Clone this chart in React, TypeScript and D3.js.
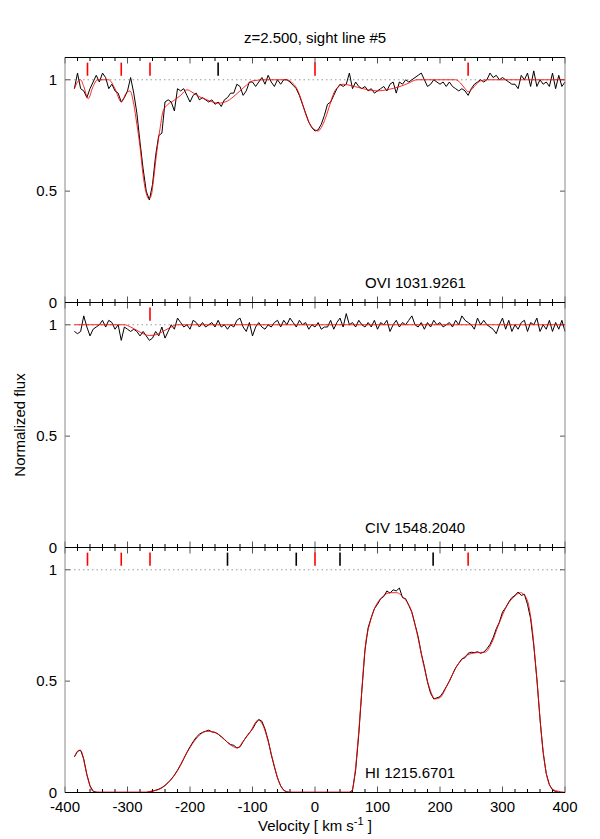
import React from "react";
import * as d3 from "d3";

// velocity grid (km/s) for the observed spectra, 5 km/s steps
const velStart = -385;
const velStep = 5;

const oviFlux = [
  0.96, 1.03, 0.96, 0.95, 0.92, 0.96, 0.99, 1.02, 0.99, 1.03, 1.01, 0.96, 0.98, 0.95, 0.94, 0.9,
  0.92, 0.95, 1.01, 0.94, 0.85, 0.72, 0.6, 0.5, 0.46, 0.53, 0.66, 0.75, 0.76, 0.9, 0.91, 0.9,
  0.86, 0.96, 0.95, 0.96, 0.93, 0.9, 0.93, 0.94, 0.91, 0.92, 0.91, 0.9, 0.91, 0.89, 0.9, 0.88,
  0.91, 0.92, 0.94, 0.94, 0.98, 0.97, 0.93, 0.95, 0.99, 0.99, 0.97, 0.99, 1.01, 0.98, 1.02, 0.99,
  0.97, 1.0, 0.98, 1.0, 1.0, 0.99, 0.975, 0.96, 0.93, 0.89, 0.85, 0.81, 0.785, 0.77, 0.775, 0.8,
  0.84, 0.89, 0.9, 0.93, 0.96, 0.98, 0.97, 0.98, 1.03, 0.96, 0.99, 0.97, 0.96, 0.97, 0.95, 0.96,
  0.94, 0.95, 0.96, 0.97, 0.95, 0.98, 0.99, 0.94, 0.99, 0.98, 1.0, 0.99, 1.0, 1.01, 1.02, 1.03,
  1.0, 0.97, 0.98, 1.0, 0.99, 0.98, 0.99, 0.97, 0.99, 0.97, 0.96, 0.95, 0.96, 0.95, 0.93, 0.96,
  0.98, 0.99, 1.0, 0.99, 1.0, 1.03, 1.01, 1.02, 1.0, 1.01, 1.0, 0.99, 0.98, 0.98, 0.96, 1.02,
  1.0, 1.03, 0.97, 1.04, 0.97, 1.0, 0.98, 0.99, 0.97, 1.03, 0.96, 1.02, 0.97, 0.99,
];

const civFlux = [
  0.97, 0.96, 0.97, 1.04, 0.99, 0.95, 0.98, 0.99, 1.0, 1.02, 0.99, 1.02, 1.01, 0.98, 1.0, 0.93,
  0.99, 0.98, 0.97, 0.98, 0.97, 0.95, 0.97, 0.95, 0.93, 0.94, 0.97, 0.95, 0.99, 0.94, 0.97, 1.0,
  0.98, 1.03, 1.01, 0.99, 1.0, 0.98, 1.02, 1.01, 0.99, 1.01, 0.99, 1.0, 1.01, 0.99, 1.02, 0.99,
  1.0, 0.98, 1.0, 0.99, 1.02, 1.03, 0.99, 0.97, 1.01, 0.95, 0.99, 1.01, 0.99, 0.98, 1.0, 0.99,
  1.01, 1.02, 0.99, 1.02, 1.0, 1.03, 1.01, 0.99, 1.02, 1.0, 1.01, 0.98, 1.0, 0.99, 1.01, 0.98,
  0.99, 0.99, 1.02, 0.98, 1.01, 1.03, 0.99, 1.05, 1.0, 1.01, 0.99, 1.02, 1.0, 0.99, 1.01, 0.99,
  1.02, 0.98, 1.01, 1.0, 1.02, 0.97, 1.0, 1.02, 0.99, 1.01, 1.0, 1.02, 1.04, 1.0, 0.99, 1.01,
  0.98, 1.01, 0.99, 1.02, 1.0, 1.01, 0.99, 1.0, 1.01, 0.99, 1.02, 1.0, 1.04, 1.02, 1.01, 1.0,
  0.98, 1.03, 1.0, 1.02, 1.0, 0.99, 0.98, 0.96, 1.0, 1.03, 0.98, 1.02, 0.97, 1.0, 0.98, 1.01,
  1.02, 0.97, 1.01, 1.0, 1.03, 0.97, 1.0, 0.98, 1.02, 0.97, 1.01, 0.98, 1.02, 0.97,
];

const hiFlux = [
  0.16, 0.185, 0.19, 0.15, 0.08, 0.03, 0.006, 0.001, 0, 0, 0, 0, 0, 0, 0, 0,
  0, 0, 0, 0, 0, 0, 0, 0, 0.003, 0.006, 0.01, 0.015, 0.022, 0.032, 0.045, 0.06,
  0.078, 0.1, 0.125, 0.152, 0.18, 0.205, 0.228, 0.248, 0.262, 0.27, 0.275, 0.28, 0.272, 0.27, 0.262, 0.25,
  0.238, 0.225, 0.215, 0.212, 0.2, 0.205, 0.228, 0.25, 0.268, 0.285, 0.31, 0.328, 0.32, 0.285, 0.235, 0.17,
  0.115, 0.065, 0.03, 0.01, 0.003, 0, 0, 0, 0, 0, 0, 0, 0, 0, 0, 0,
  0, 0, 0, 0, 0, 0, 0, 0, 0, 0.01, 0.1, 0.26, 0.46, 0.64, 0.74, 0.785,
  0.825, 0.845, 0.87, 0.88, 0.905, 0.895, 0.91, 0.905, 0.918, 0.875, 0.87, 0.84, 0.81, 0.755, 0.7, 0.625,
  0.565, 0.495, 0.445, 0.42, 0.425, 0.43, 0.45, 0.475, 0.5, 0.53, 0.56, 0.58, 0.6, 0.605, 0.625, 0.63,
  0.628, 0.632, 0.625, 0.63, 0.645, 0.665, 0.695, 0.735, 0.765, 0.81, 0.83, 0.855, 0.875, 0.885, 0.9, 0.885,
  0.89, 0.845, 0.78, 0.66, 0.51, 0.33, 0.18, 0.085, 0.035, 0.012, 0.004, 0.001, 0, 0,
];

// fitted models: [velocity, flux]
const oviModel: [number, number][] = [
  [-385, 0.96], [-380, 0.99], [-375, 1.0], [-370, 0.97], [-363, 0.915], [-355, 0.97], [-348, 1.0],
  [-330, 1.0], [-320, 0.96], [-310, 0.9], [-302, 0.94], [-296, 0.95], [-290, 0.89], [-285, 0.8],
  [-280, 0.7], [-275, 0.57], [-270, 0.49], [-266, 0.465], [-262, 0.48], [-258, 0.56], [-253, 0.68],
  [-248, 0.78], [-243, 0.86], [-235, 0.89], [-227, 0.905], [-215, 0.93], [-205, 0.955], [-197, 0.945],
  [-189, 0.93], [-173, 0.91], [-155, 0.895], [-140, 0.905], [-128, 0.93], [-120, 0.95], [-110, 0.975],
  [-100, 0.995], [-80, 1.0], [-45, 1.0], [-38, 0.99], [-29, 0.96], [-22, 0.91], [-16, 0.855], [-8, 0.8],
  [0, 0.775], [5, 0.77], [10, 0.785], [17, 0.83], [24, 0.89], [30, 0.94], [38, 0.97], [45, 0.98],
  [56, 0.975], [70, 0.965], [85, 0.955], [100, 0.95], [115, 0.955], [136, 0.97], [150, 0.985], [163, 1.0],
  [225, 1.0], [233, 0.985], [240, 0.96], [245, 0.946], [252, 0.96], [258, 0.98], [265, 0.995], [275, 1.0],
  [400, 1.0],
];

const civModel: [number, number][] = [
  [-385, 1.0], [-305, 1.0], [-295, 0.99], [-285, 0.975], [-275, 0.96], [-265, 0.952], [-258, 0.953],
  [-250, 0.96], [-240, 0.975], [-230, 0.99], [-220, 1.0], [400, 1.0],
];

const hiModel: [number, number][] = [
  [-385, 0.16], [-377, 0.19], [-373, 0.18], [-368, 0.118], [-363, 0.058], [-357, 0.01], [-352, 0.002],
  [-270, 0.002], [-264, 0.005], [-248, 0.016], [-235, 0.043], [-219, 0.103], [-205, 0.178], [-189, 0.245],
  [-173, 0.275], [-163, 0.272], [-149, 0.25], [-136, 0.215], [-124, 0.2], [-115, 0.23], [-104, 0.27],
  [-91, 0.325], [-83, 0.3], [-75, 0.23], [-67, 0.14], [-59, 0.058], [-51, 0.013], [-43, 0.002], [56, 0.002],
  [59, 0.006], [64, 0.088], [69, 0.238], [75, 0.463], [80, 0.643], [88, 0.763], [96, 0.831], [107, 0.876],
  [120, 0.897], [131, 0.897], [141, 0.876], [152, 0.831], [163, 0.718], [173, 0.583], [184, 0.463],
  [192, 0.42], [200, 0.426], [211, 0.478], [227, 0.568], [243, 0.616], [259, 0.628], [272, 0.63],
  [283, 0.673], [293, 0.748], [307, 0.838], [320, 0.883], [329, 0.897], [339, 0.868], [347, 0.748],
  [355, 0.508], [363, 0.238], [371, 0.073], [381, 0.013], [397, 0.002], [400, 0.001],
];

const redMarkers = [-364, -310, -264, 0, 245];
const panelLabels = ["OVI 1031.9261", "CIV 1548.2040", "HI 1215.6701"];
const panelRed = [redMarkers, [-264], redMarkers];
const panelBlack = [[-155], [], [-140, -30, 40, 189]];

const W = 600;
const H = 839;
const left = 65;
const right = 565;
const panelTop = [57.5, 302.5, 547.5];
const panelH = 245;
const font = "'Liberation Sans', Arial, Helvetica, sans-serif";

const x = d3.scaleLinear().domain([-400, 400]).range([left, right]);
const xTicks = d3.range(-400, 401, 20);

const toPoints = (arr: number[]): [number, number][] =>
  arr.map((f, i) => [velStart + i * velStep, f]);

const spectra = [
  { data: toPoints(oviFlux), model: oviModel },
  { data: toPoints(civFlux), model: civModel },
  { data: toPoints(hiFlux), model: hiModel },
];

function Panel({ idx }: { idx: number }) {
  const top = panelTop[idx];
  const bottom = top + panelH;
  const y = d3.scaleLinear().domain([0, 1.1]).range([bottom, top]);
  const line = d3
    .line<[number, number]>()
    .x((d) => x(d[0]))
    .y((d) => y(d[1]));
  const modelLine = d3
    .line<[number, number]>()
    .x((d) => x(d[0]))
    .y((d) => y(d[1]))
    .curve(d3.curveMonotoneX);
  const { data, model } = spectra[idx];
  const yTicks = [0, 0.5, 1];
  return (
    <g>
      {/* dotted continuum */}
      <line x1={left} x2={right} y1={y(1)} y2={y(1)} stroke="#999" strokeDasharray="1.5,3" />
      {/* x ticks top and bottom */}
      {xTicks.map((t) => {
        const major = t % 100 === 0;
        const len = major ? 6 : 3.5;
        return (
          <g key={t} stroke={major ? "#555" : "#000"}>
            <line x1={x(t)} x2={x(t)} y1={bottom} y2={bottom - len} />
            <line x1={x(t)} x2={x(t)} y1={top} y2={top + len} />
          </g>
        );
      })}
      {/* y ticks */}
      {yTicks.map((t) => (
        <g key={t}>
          <line x1={left} x2={left + 5} y1={y(t)} y2={y(t)} stroke="#555" />
          <line x1={right} x2={right - 5} y1={y(t)} y2={y(t)} stroke="#555" />
          <text
            x={left - 8}
            y={y(t)}
            dy="0.35em"
            textAnchor="end"
            fontSize={15}
            fontFamily={font}
          >
            {t}
          </text>
        </g>
      ))}
      {/* line markers */}
      {panelRed[idx].map((v) => (
        <line key={"r" + v} x1={x(v)} x2={x(v)} y1={y(1.077)} y2={y(1.018)} stroke="#f00" strokeWidth={1.6} />
      ))}
      {panelBlack[idx].map((v) => (
        <line key={"b" + v} x1={x(v)} x2={x(v)} y1={y(1.077)} y2={y(1.018)} stroke="#000" strokeWidth={1.6} />
      ))}
      <path d={line(data) || ""} fill="none" stroke="#000" strokeWidth={1} />
      <path d={modelLine(model) || ""} fill="none" stroke="#f00" strokeWidth={1} strokeOpacity={0.85} />
      <text x={365} y={bottom - 15} fontSize={15} fontFamily={font}>
        {panelLabels[idx]}
      </text>
      {/* vertical frame */}
      <line x1={left} x2={left} y1={top} y2={bottom} stroke="#888" />
      <line x1={right} x2={right} y1={top} y2={bottom} stroke="#888" />
    </g>
  );
}

export default function App() {
  const bottom = panelTop[2] + panelH;
  return (
    <svg
      width={W}
      height={H}
      style={{ display: "block", position: "absolute", left: 0, top: 0, background: "#fff" }}
    >
      <rect width={W} height={H} fill="#fff" />
      <text x={315} y={43} textAnchor="middle" fontSize={15} fontFamily={font}>
        z=2.500, sight line #5
      </text>
      {[0, 1, 2].map((i) => (
        <Panel key={i} idx={i} />
      ))}
      {/* horizontal frame lines */}
      {[panelTop[0], panelTop[1], panelTop[2], bottom].map((yy, i) => (
        <line key={i} x1={left} x2={right} y1={yy} y2={yy} stroke="#000" />
      ))}
      {xTicks
        .filter((t) => t % 100 === 0)
        .map((t) => (
          <text key={t} x={x(t)} y={812} textAnchor="middle" fontSize={15} fontFamily={font}>
            {t}
          </text>
        ))}
      <text x={315} y={831} textAnchor="middle" fontSize={15} fontFamily={font}>
        Velocity [ km s
        <tspan dy={-6} fontSize={11}>-1</tspan>
        <tspan dy={6}> ]</tspan>
      </text>
      <text
        transform={`translate(25,${(panelTop[0] + bottom) / 2}) rotate(-90)`}
        textAnchor="middle"
        fontSize={15}
        fontFamily={font}
      >
        Normalized flux
      </text>
    </svg>
  );
}
